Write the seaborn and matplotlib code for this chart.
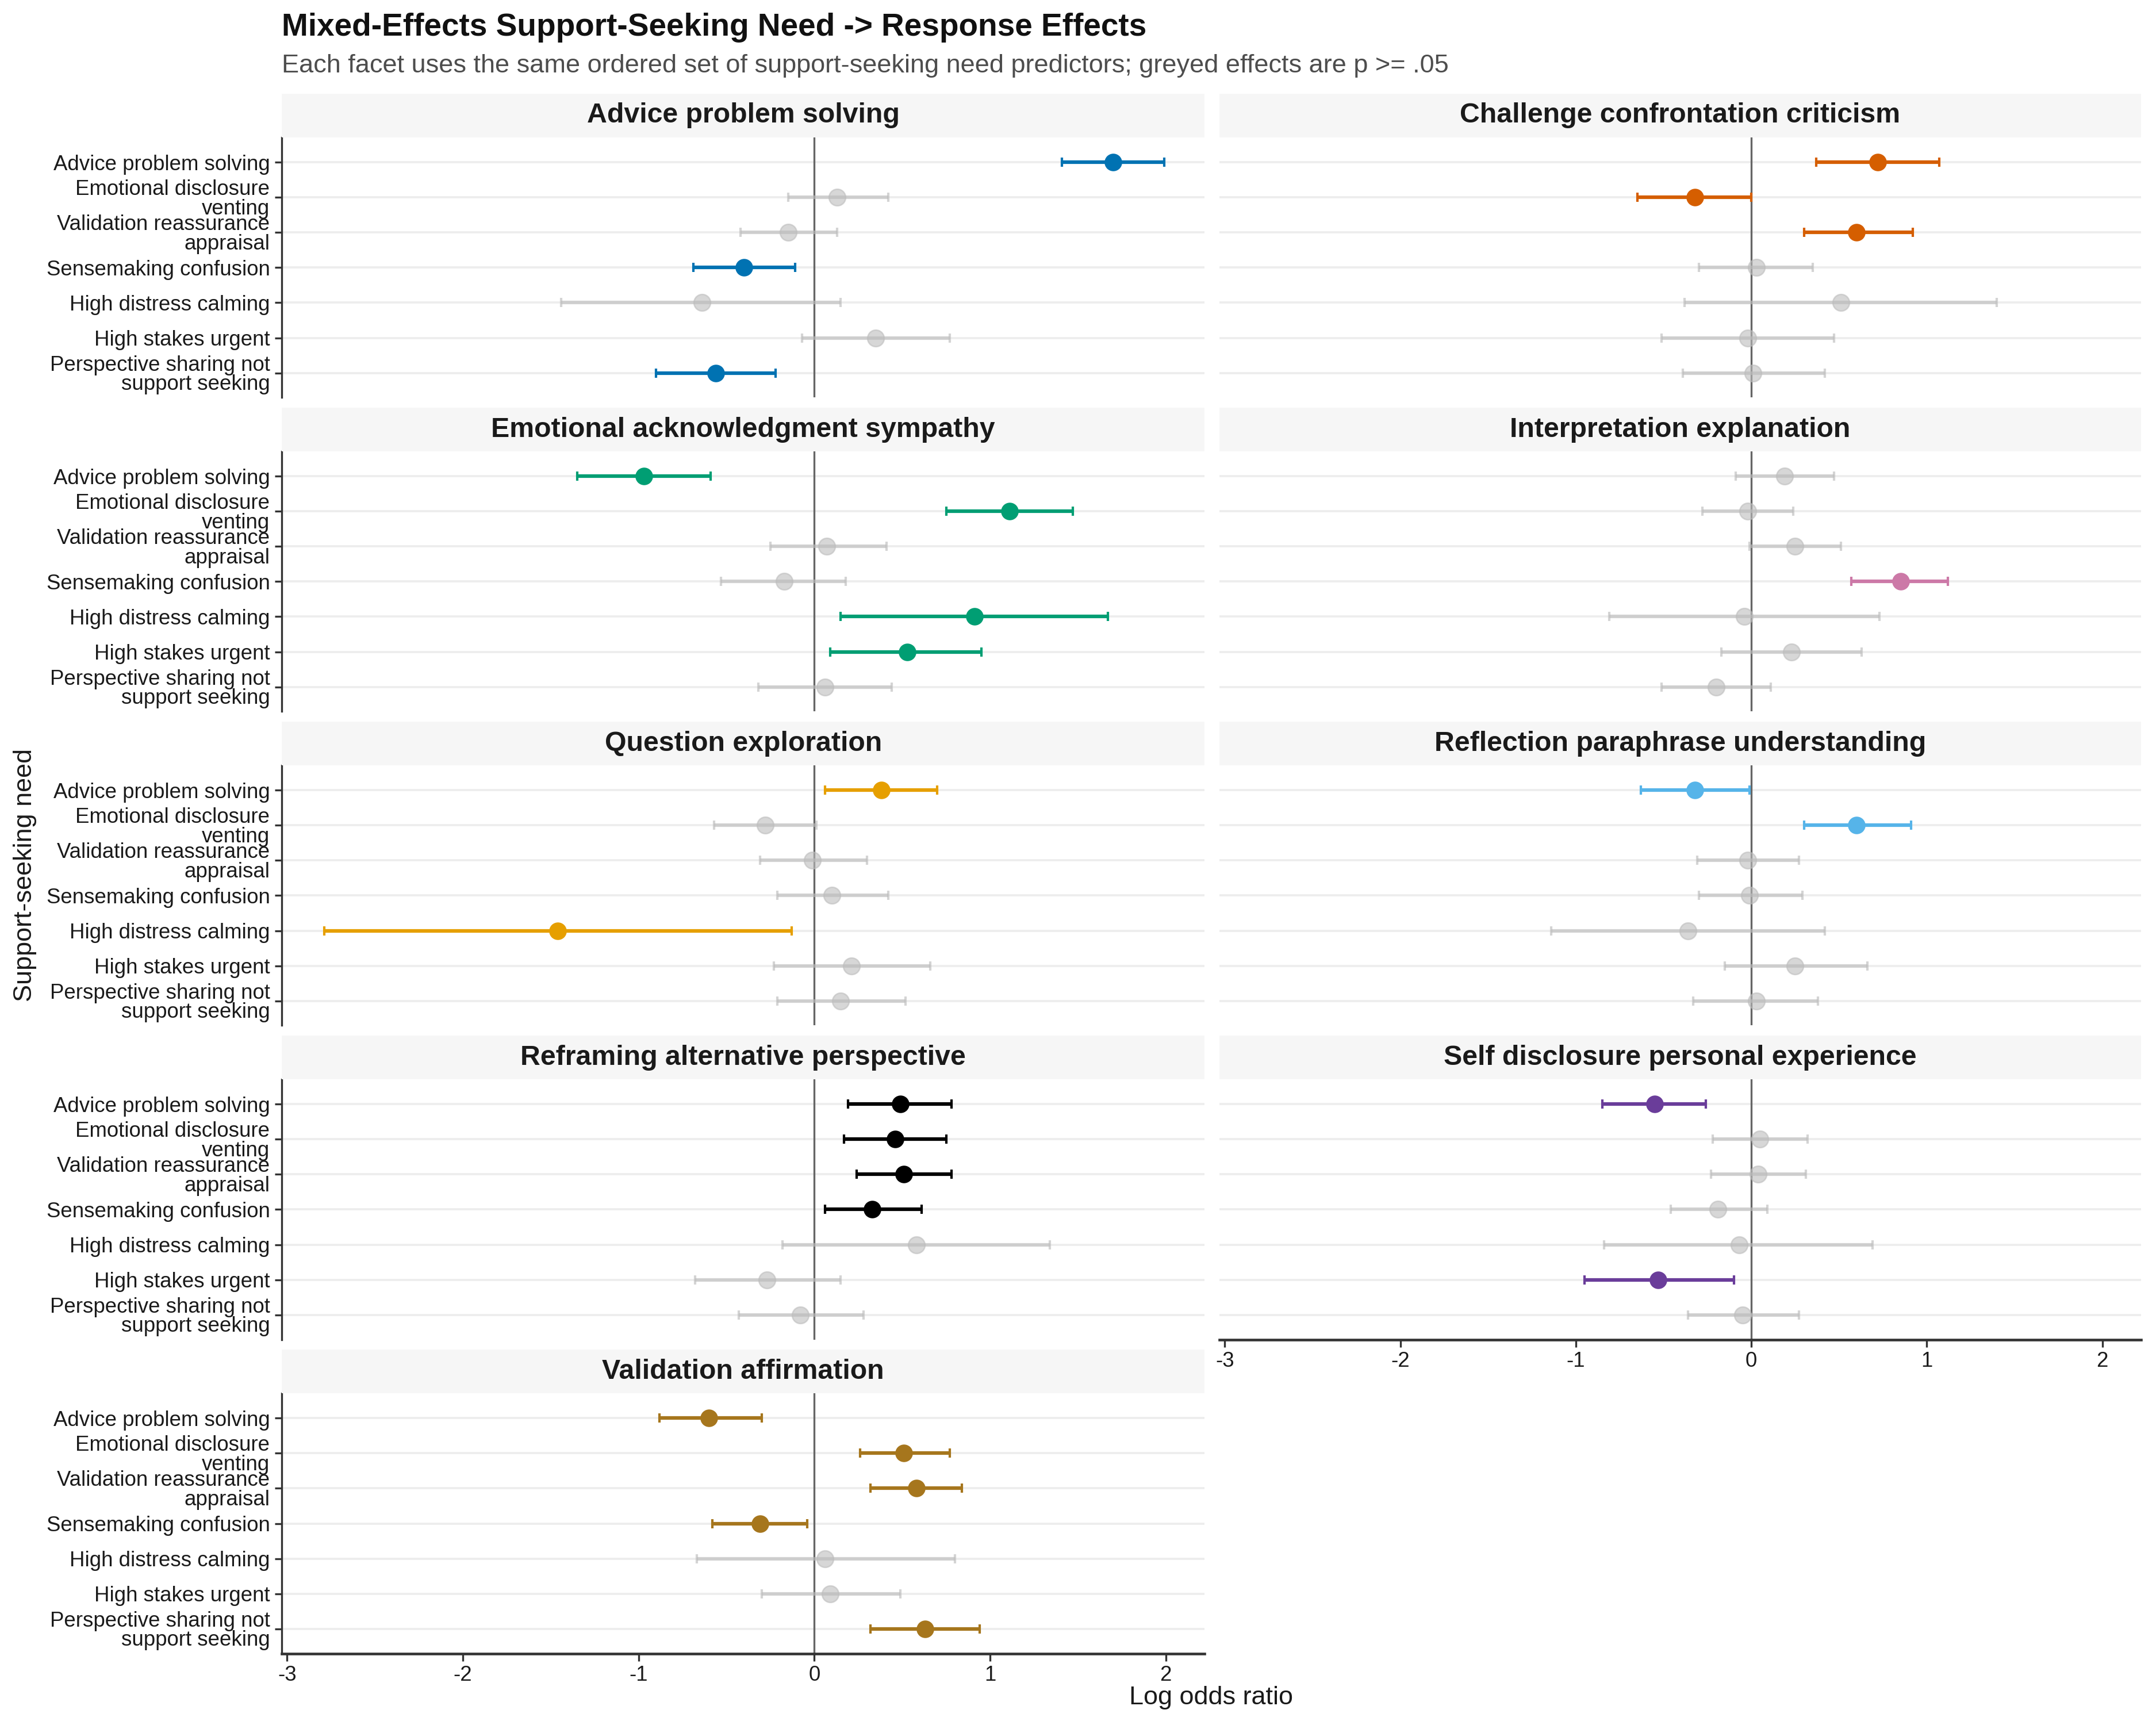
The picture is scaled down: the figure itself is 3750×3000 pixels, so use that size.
import matplotlib
matplotlib.use("Agg")
import matplotlib.pyplot as plt
import seaborn as sns
import pandas as pd

# response types (facets), in panel order
responses = ['Advice problem solving', 'Challenge confrontation criticism',
             'Emotional acknowledgment sympathy', 'Interpretation explanation',
             'Question exploration', 'Reflection paraphrase understanding',
             'Reframing alternative perspective', 'Self disclosure personal experience',
             'Validation affirmation']
colors = ['#0072B2', '#D55E00', '#009E73', '#CC79A7', '#E69F00',
          '#56B4E9', '#000000', '#6A3D9A', '#A6761D']

# support-seeking need predictors (same order in every facet)
predictors = ['Advice problem solving', 'Emotional disclosure venting',
              'Validation reassurance appraisal', 'Sensemaking confusion',
              'High distress calming', 'High stakes urgent',
              'Perspective sharing not support seeking']
pred_labels = ['Advice problem solving', 'Emotional disclosure\nventing',
               'Validation reassurance\nappraisal', 'Sensemaking confusion',
               'High distress calming', 'High stakes urgent',
               'Perspective sharing not\nsupport seeking']

# estimates / 95% CI / significant (p < .05)
est_advice = [1.70, 0.13, -0.15, -0.40, -0.64, 0.35, -0.56]
lo_advice = [1.41, -0.15, -0.42, -0.69, -1.44, -0.07, -0.90]
hi_advice = [1.99, 0.42, 0.13, -0.11, 0.15, 0.77, -0.22]
sig_advice = [1, 0, 0, 1, 0, 0, 1]

est_challenge = [0.72, -0.32, 0.60, 0.03, 0.51, -0.02, 0.01]
lo_challenge = [0.37, -0.65, 0.30, -0.30, -0.38, -0.51, -0.39]
hi_challenge = [1.07, 0.00, 0.92, 0.35, 1.40, 0.47, 0.42]
sig_challenge = [1, 1, 1, 0, 0, 0, 0]

est_emotional = [-0.97, 1.11, 0.07, -0.17, 0.91, 0.53, 0.06]
lo_emotional = [-1.35, 0.75, -0.25, -0.53, 0.15, 0.09, -0.32]
hi_emotional = [-0.59, 1.47, 0.41, 0.18, 1.67, 0.95, 0.44]
sig_emotional = [1, 1, 0, 0, 1, 1, 0]

est_interp = [0.19, -0.02, 0.25, 0.85, -0.04, 0.23, -0.20]
lo_interp = [-0.09, -0.28, -0.01, 0.57, -0.81, -0.17, -0.51]
hi_interp = [0.47, 0.24, 0.51, 1.12, 0.73, 0.63, 0.11]
sig_interp = [0, 0, 0, 1, 0, 0, 0]

est_question = [0.38, -0.28, -0.01, 0.10, -1.46, 0.21, 0.15]
lo_question = [0.06, -0.57, -0.31, -0.21, -2.79, -0.23, -0.21]
hi_question = [0.70, 0.01, 0.30, 0.42, -0.13, 0.66, 0.52]
sig_question = [1, 0, 0, 0, 1, 0, 0]

est_reflection = [-0.32, 0.60, -0.02, -0.01, -0.36, 0.25, 0.03]
lo_reflection = [-0.63, 0.30, -0.31, -0.30, -1.14, -0.15, -0.33]
hi_reflection = [-0.01, 0.91, 0.27, 0.29, 0.42, 0.66, 0.38]
sig_reflection = [1, 1, 0, 0, 0, 0, 0]

est_reframing = [0.49, 0.46, 0.51, 0.33, 0.58, -0.27, -0.08]
lo_reframing = [0.19, 0.17, 0.24, 0.06, -0.18, -0.68, -0.43]
hi_reframing = [0.78, 0.75, 0.78, 0.61, 1.34, 0.15, 0.28]
sig_reframing = [1, 1, 1, 1, 0, 0, 0]

est_selfdisc = [-0.55, 0.05, 0.04, -0.19, -0.07, -0.53, -0.05]
lo_selfdisc = [-0.85, -0.22, -0.23, -0.46, -0.84, -0.95, -0.36]
hi_selfdisc = [-0.26, 0.32, 0.31, 0.09, 0.69, -0.10, 0.27]
sig_selfdisc = [1, 0, 0, 0, 0, 1, 0]

est_validation = [-0.60, 0.51, 0.58, -0.31, 0.06, 0.09, 0.63]
lo_validation = [-0.88, 0.26, 0.32, -0.58, -0.67, -0.30, 0.32]
hi_validation = [-0.30, 0.77, 0.84, -0.04, 0.80, 0.49, 0.94]
sig_validation = [1, 1, 1, 1, 0, 0, 1]

all_est = [est_advice, est_challenge, est_emotional, est_interp, est_question,
           est_reflection, est_reframing, est_selfdisc, est_validation]
all_lo = [lo_advice, lo_challenge, lo_emotional, lo_interp, lo_question,
          lo_reflection, lo_reframing, lo_selfdisc, lo_validation]
all_hi = [hi_advice, hi_challenge, hi_emotional, hi_interp, hi_question,
          hi_reflection, hi_reframing, hi_selfdisc, hi_validation]
all_sig = [sig_advice, sig_challenge, sig_emotional, sig_interp, sig_question,
           sig_reflection, sig_reframing, sig_selfdisc, sig_validation]

rows = []
for r, est, lo, hi, sig in zip(responses, all_est, all_lo, all_hi, all_sig):
    for i, p in enumerate(predictors):
        rows.append({'response': r, 'predictor': p, 'pos': i,
                     'est': est[i], 'lo': lo[i], 'hi': hi[i], 'sig': bool(sig[i])})
df = pd.DataFrame(rows)

sns.set_theme(style='white')
plt.rcParams['font.family'] = ['Liberation Sans', 'DejaVu Sans']

fig = plt.figure(figsize=(12.5, 10), dpi=300)
W, H = 1568.0, 1254.0
col_x = [205 / W, 887 / W]
col_w = [671 / W, 670 / W]
grey = '#BDBDBD'

for k, resp in enumerate(responses):
    row, col = divmod(k, 2)
    strip_top = 68 + row * 228.25
    ax_top = strip_top + 32
    ax = fig.add_axes([col_x[col], 1 - (ax_top + 189) / H, col_w[col], 189 / H])
    sax = fig.add_axes([col_x[col], 1 - ax_top / H, col_w[col], 32 / H])
    sax.set_facecolor('#F6F6F6')
    sax.set_xticks([]); sax.set_yticks([])
    for s in sax.spines.values():
        s.set_visible(False)
    sax.text(0.5, 0.5, resp, ha='center', va='center', fontsize=11.6,
             fontweight='bold', color='#1A1A1A', transform=sax.transAxes)

    sub = df[df['response'] == resp]
    ns = sub[~sub['sig']]
    sg = sub[sub['sig']]

    ax.axvline(0, color='#666666', lw=0.8, zorder=1)
    ax.errorbar(ns['est'], ns['pos'], xerr=[ns['est'] - ns['lo'], ns['hi'] - ns['est']],
                fmt='none', ecolor=grey, elinewidth=1.5, capsize=2.0, capthick=1.0,
                alpha=0.65, zorder=2)
    sns.scatterplot(data=ns, x='est', y='pos', color=grey, s=48, alpha=0.6,
                    edgecolor=grey, linewidth=0.6, ax=ax, zorder=3, legend=False)
    ax.errorbar(sg['est'], sg['pos'], xerr=[sg['est'] - sg['lo'], sg['hi'] - sg['est']],
                fmt='none', ecolor=colors[k], elinewidth=1.5, capsize=2.0, capthick=1.0,
                zorder=4)
    sns.scatterplot(data=sg, x='est', y='pos', color=colors[k], s=48,
                    edgecolor=colors[k], linewidth=0.4, ax=ax, zorder=5, legend=False)

    ax.set_xlim(-3.03, 2.22)
    ax.set_ylim(6.7, -0.7)
    ax.set_xticks([-3, -2, -1, 0, 1, 2])
    ax.set_yticks(range(len(predictors)))
    ax.grid(axis='y', color='#EDEDED', lw=0.9)
    ax.grid(axis='x', visible=False)
    ax.set_axisbelow(True)
    ax.set_xlabel('')
    ax.set_ylabel('')
    for s in ['top', 'right']:
        ax.spines[s].set_visible(False)

    if col == 0:
        ax.set_yticklabels(pred_labels, fontsize=8.8, color='#1A1A1A', linespacing=0.95)
        ax.spines['left'].set_color('#333333')
        ax.spines['left'].set_linewidth(0.8)
        ax.tick_params(axis='y', length=3, width=0.8, color='#333333', pad=2, left=True)
    else:
        ax.set_yticklabels([])
        ax.spines['left'].set_visible(False)
        ax.tick_params(axis='y', length=0)

    bottom = (k == len(responses) - 1) or (k == len(responses) - 2)
    if bottom:
        ax.set_xticklabels(['-3', '-2', '-1', '0', '1', '2'], fontsize=8.8, color='#1A1A1A')
        ax.spines['bottom'].set_color('#333333')
        ax.spines['bottom'].set_linewidth(1.1)
        ax.tick_params(axis='x', length=3, width=0.8, color='#333333', pad=2, bottom=True)
    else:
        ax.set_xticklabels([])
        ax.spines['bottom'].set_visible(False)
        ax.tick_params(axis='x', length=0)

fig.text(205 / W, 1 - 20 / H, 'Mixed-Effects Support-Seeking Need -> Response Effects',
         fontsize=13.2, fontweight='bold', ha='left', va='center', color='#111111')
fig.text(205 / W, 1 - 48 / H,
         'Each facet uses the same ordered set of support-seeking need predictors; '
         'greyed effects are p >= .05',
         fontsize=10.85, ha='left', va='center', color='#4D4D4D')
fig.text(881 / W, 1 - 1234 / H, 'Log odds ratio', fontsize=10.8, ha='center',
         va='center', color='#1A1A1A')
fig.text(18 / W, 1 - 636 / H, 'Support-seeking need', fontsize=10.8, rotation=90,
         ha='center', va='center', color='#1A1A1A')

fig.savefig('out.png', dpi=300)
